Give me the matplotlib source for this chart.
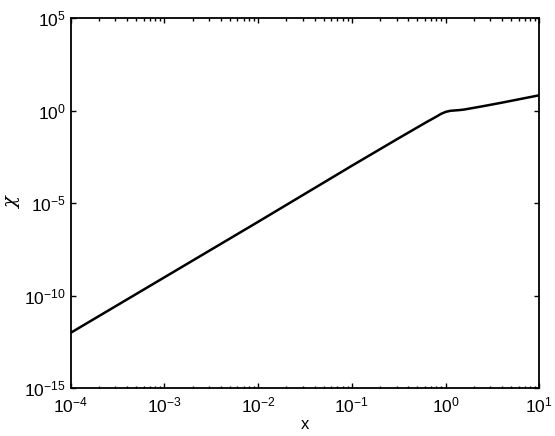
import matplotlib
matplotlib.use('Agg')
import matplotlib.pyplot as plt
from matplotlib.ticker import LogLocator, NullLocator, LogFormatterSciNotation

plt.rcParams['font.family'] = ['Liberation Sans', 'DejaVu Sans']
plt.rcParams['mathtext.fontset'] = 'custom'
plt.rcParams['mathtext.rm'] = 'Liberation Sans'
plt.rcParams['mathtext.it'] = 'Liberation Sans:italic'
plt.rcParams['mathtext.default'] = 'regular'

# curve (log-log)
x_vals = [1e-4, 1e-3, 1e-2, 1e-1, 10**-0.5, 10**-0.2, 10**-0.1, 10**-0.05,
          1.0, 10**0.05, 10**0.1, 10**0.15, 10**0.2, 10**0.4, 10**0.6, 10**0.8, 10.0]
chi_vals = [1e-12, 1e-9, 1e-6, 10**-2.97, 10**-1.48, 10**-0.6, 10**-0.32, 10**-0.17,
            10**-0.06, 10**0.0, 10**0.02, 10**0.04, 10**0.07, 10**0.25, 10**0.44, 10**0.64, 10**0.84]

y_ticks = [1e-15, 1e-10, 1e-5, 1e0, 1e5]

fig = plt.figure(figsize=(5.55, 4.36), dpi=100)
ax = fig.add_axes([0.1274, 0.1094, 0.8443, 0.8486])

ax.plot(x_vals, chi_vals, color='black', lw=1.8)
ax.set_xscale('log')
ax.set_yscale('log')
ax.set_xlim(1e-4, 1e1)
ax.set_ylim(1e-15, 1e5)

ax.xaxis.set_major_locator(LogLocator(base=10, numticks=10))
ax.xaxis.set_minor_locator(LogLocator(base=10, subs=range(2, 10), numticks=20))
ax.set_yticks(y_ticks)
ax.yaxis.set_minor_locator(NullLocator())
ax.yaxis.set_major_formatter(LogFormatterSciNotation())

ax.tick_params(which='both', direction='in', top=True, right=True, labelsize=12.5, colors='black')
ax.tick_params(which='major', length=3.5, width=1)
ax.tick_params(which='minor', length=1.8, width=1)
ax.tick_params(axis='x', pad=5)
for s in ax.spines.values():
    s.set_linewidth(1.3)

ax.set_xlabel('x', fontsize=12, labelpad=1)
ax.set_ylabel('χ', fontsize=14, labelpad=2, family='DejaVu Serif', style='italic')

fig.savefig('out.png', dpi=100)
